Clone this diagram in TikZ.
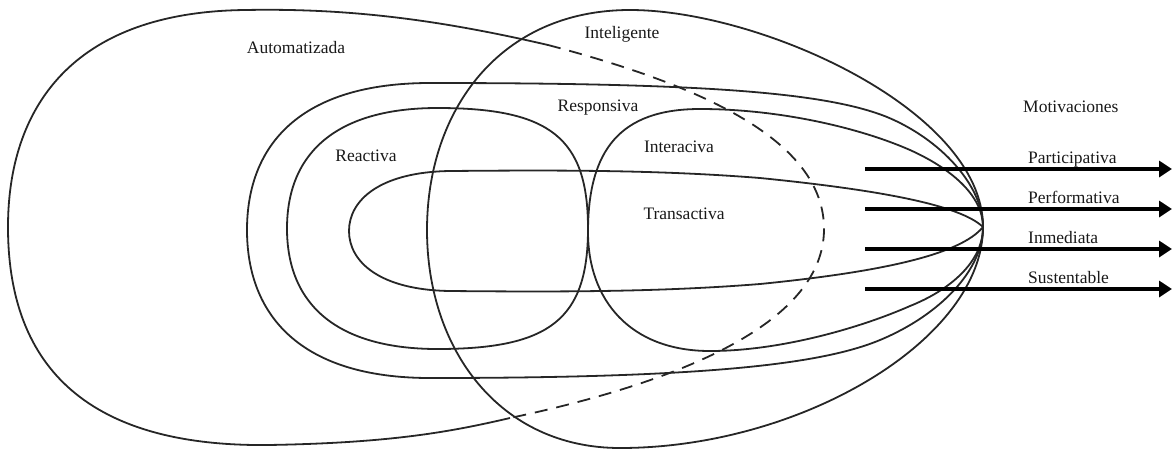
\documentclass[tikz,border=0pt]{standalone}
\usepackage{fontspec}
\setmainfont{Liberation Serif}
\usetikzlibrary{arrows.meta}
\begin{document}
\begin{tikzpicture}[x=1pt,y=-1pt,
  curve/.style={line width=1.8pt, draw=black!85, line join=round},
  dashedcurve/.style={curve, dash pattern=on 13pt off 9pt},
  lbl/.style={font=\fontsize{17.5}{21}\selectfont, text=black!90, inner sep=0pt},
  motiv/.style={line width=4pt, draw=black, -{Triangle[length=13pt,width=16pt]}}]
\useasboundingbox (0,0) rectangle (1172,448);

% Automatizada (solid outer part)
\draw[curve] (548,45) .. controls (440,20) and (350,8) .. (245,10)
  .. controls (70,12) and (8,110) .. (8,227)
  .. controls (8,360) and (80,447) .. (268,445)
  .. controls (390,443) and (450,432) .. (510,418);
% Automatizada (dashed part)
\draw[dashedcurve] (548,45) .. controls (700,85) and (825,140) .. (824,230)
  .. controls (823,320) and (690,380) .. (510,418);

% Inteligente
\draw[curve] (427,230) .. controls (427,110) and (500,10) .. (630,10)
  .. controls (760,10) and (983,110) .. (983,227)
  .. controls (983,340) and (800,448) .. (620,448)
  .. controls (500,448) and (427,350) .. (427,230) -- cycle;

% Responsiva
\draw[curve] (983,227) .. controls (983,185) and (940,139) .. (887,117)
  .. controls (825,92) and (700,83) .. (430,83)
  .. controls (300,83) and (247,145) .. (247,230)
  .. controls (247,315) and (300,378) .. (430,378)
  .. controls (700,378) and (820,365) .. (880,340)
  .. controls (940,315) and (983,270) .. (983,227) -- cycle;

% Reactiva
\draw[curve] (287,228.5) .. controls (287,150.2) and (339.7,108) .. (437.5,108)
  .. controls (550.4,108) and (588,138.1) .. (588,228.5)
  .. controls (588,318.9) and (550.4,349) .. (437.5,349)
  .. controls (339.7,349) and (287,306.8) .. (287,228.5) -- cycle;

% Interaciva
\draw[curve] (588,232) .. controls (588,150) and (620,109) .. (700,109)
  .. controls (780,109) and (860,128) .. (910,150)
  .. controls (950,168) and (983,195) .. (983,227)
  .. controls (983,262) and (950,290) .. (910,306)
  .. controls (860,328) and (780,351) .. (710,351)
  .. controls (630,351) and (588,300) .. (588,232) -- cycle;

% Transactiva
\draw[curve] (983,227) .. controls (960,205) and (880,190) .. (760,178)
  .. controls (660,170) and (560,170) .. (450,171)
  .. controls (380,172) and (349,200) .. (349,231)
  .. controls (349,262) and (380,290) .. (450,291)
  .. controls (560,292) and (660,292) .. (760,284)
  .. controls (880,272) and (960,255) .. (983,227) -- cycle;

% Labels
\node[lbl, anchor=base] (automatizada) at (296,53) {Automatizada};
\node[lbl, anchor=base] (inteligente) at (622,38) {Inteligente};
\node[lbl, anchor=base] (responsiva) at (598,111) {Responsiva};
\node[lbl, anchor=base] (reactiva) at (366,161) {Reactiva};
\node[lbl, anchor=base] (interaciva) at (679,152) {Interaciva};
\node[lbl, anchor=base] (transactiva) at (684,219) {Transactiva};
\node[lbl, anchor=base west] (motivaciones) at (1023,112) {Motivaciones};

% Motivation arrows
\coordinate (p0) at (865,169); \coordinate (p1) at (1172,169);
\coordinate (f0) at (865,209); \coordinate (f1) at (1172,209);
\coordinate (i0) at (865,249); \coordinate (i1) at (1172,249);
\coordinate (s0) at (865,289); \coordinate (s1) at (1172,289);
\draw[motiv] (p0) -- (p1);
\draw[motiv] (f0) -- (f1);
\draw[motiv] (i0) -- (i1);
\draw[motiv] (s0) -- (s1);
\node[lbl, anchor=base west] (participativa) at (1028,163) {Participativa};
\node[lbl, anchor=base west] (performativa) at (1028,203) {Performativa};
\node[lbl, anchor=base west] (inmediata) at (1028,243) {Inmediata};
\node[lbl, anchor=base west] (sustentable) at (1028,283) {Sustentable};
\end{tikzpicture}
\end{document}
